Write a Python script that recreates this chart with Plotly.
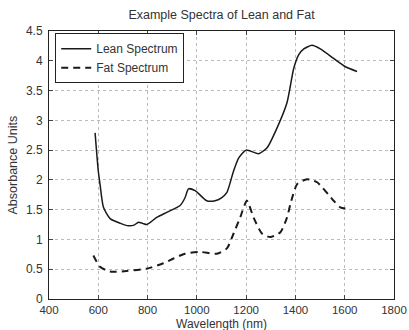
import plotly.graph_objects as go

lean_x = [587, 600, 607, 621, 648, 690, 722, 745, 763, 780, 797, 837, 880, 932, 952, 966, 993, 1040, 1074, 1100, 1122, 1149, 1170, 1200, 1251, 1285, 1325, 1366, 1393, 1413, 1434, 1467, 1501, 1555, 1603, 1650]
lean_y = [2.79, 2.15, 1.93, 1.54, 1.35, 1.27, 1.23, 1.24, 1.29, 1.27, 1.25, 1.37, 1.46, 1.57, 1.70, 1.85, 1.82, 1.65, 1.65, 1.70, 1.79, 2.15, 2.37, 2.50, 2.44, 2.54, 2.87, 3.30, 3.87, 4.10, 4.20, 4.26, 4.20, 4.04, 3.90, 3.82]

fat_x = [580, 607, 648, 715, 797, 864, 905, 952, 1013, 1081, 1122, 1149, 1176, 1203, 1230, 1264, 1298, 1339, 1366, 1380, 1407, 1447, 1488, 1555, 1582, 1617]
fat_y = [0.73, 0.54, 0.46, 0.47, 0.51, 0.60, 0.68, 0.76, 0.79, 0.76, 0.85, 1.10, 1.37, 1.65, 1.37, 1.10, 1.04, 1.12, 1.37, 1.60, 1.93, 2.01, 1.96, 1.65, 1.54, 1.51]

x_ticks = [400, 600, 800, 1000, 1200, 1400, 1600, 1800]
y_ticks = [0, 0.5, 1, 1.5, 2, 2.5, 3, 3.5, 4, 4.5]
y_ticktext = ["0", "0.5", "1", "1.5", "2", "2.5", "3", "3.5", "4", "4.5"]

title_text = "Example Spectra of Lean and Fat"
x_title = "Wavelength (nm)"
y_title = "Absorbance Units"

FONT = "Liberation Sans, Arial, sans-serif"
TXT = "#333"

fig = go.Figure()
fig.add_trace(go.Scatter(x=lean_x, y=lean_y, mode="lines", name="Lean Spectrum",
                         line=dict(color="#1a1a1a", width=1.5, shape="spline", smoothing=0.6)))
fig.add_trace(go.Scatter(x=fat_x, y=fat_y, mode="lines", name="Fat Spectrum",
                         line=dict(color="#1a1a1a", width=2, dash="7px,5px", shape="spline", smoothing=0.6)))

fig.update_layout(
    width=409, height=330,
    margin=dict(l=49, r=15, t=31, b=31, autoexpand=False),
    paper_bgcolor="white", plot_bgcolor="white",
    font=dict(family=FONT, size=12, color=TXT),
    title=dict(text=title_text, xref="paper", x=0.5, xanchor="center",
               yref="container", y=0.955, yanchor="middle",
               font=dict(family=FONT, size=12.5, color=TXT)),
    showlegend=True,
    legend=dict(x=0.018, y=0.992, xanchor="left", yanchor="top", bgcolor="white",
                bordercolor="#222", borderwidth=1, font=dict(family=FONT, size=12, color=TXT),
                tracegroupgap=0, itemwidth=30),
    annotations=[
        dict(text=x_title, xref="paper", yref="paper", x=0.5, y=-0.093,
             xanchor="center", yanchor="middle", showarrow=False,
             font=dict(family=FONT, size=12, color=TXT)),
        dict(text=y_title, xref="paper", yref="paper", x=-0.103, y=0.5,
             xanchor="center", yanchor="middle", showarrow=False, textangle=-90,
             font=dict(family=FONT, size=12.5, color=TXT)),
    ],
)
fig.update_xaxes(range=[400, 1800], tickvals=x_ticks, ticks="inside", ticklen=4,
                 showline=True, linecolor="#222", linewidth=1, mirror="ticks",
                 showgrid=True, gridcolor="#bbb", griddash="dot", gridwidth=1,
                 zeroline=False, automargin=False,
                 tickfont=dict(size=11.5, color=TXT), ticklabelstandoff=0)
fig.update_yaxes(range=[0, 4.5], tickvals=y_ticks, ticktext=y_ticktext, ticks="inside", ticklen=4,
                 showline=True, linecolor="#222", linewidth=1, mirror="ticks",
                 showgrid=True, gridcolor="#bbb", griddash="dot", gridwidth=1,
                 zeroline=False, automargin=False,
                 tickfont=dict(size=12, color=TXT), ticklabelstandoff=3)

fig.write_html(
    "out.html",
    config={"displayModeBar": False, "staticPlot": True},
    post_script=(
        "document.body.style.margin='0';"
        "document.body.style.overflow='hidden';"
        "document.documentElement.style.overflow='hidden';"
    ),
)
